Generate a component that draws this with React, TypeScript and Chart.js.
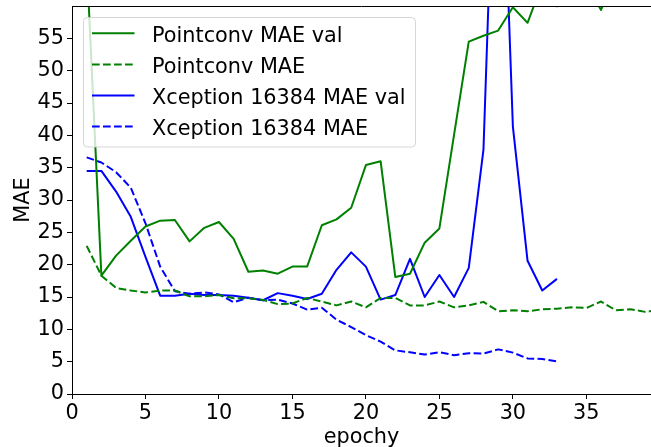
import React, { useEffect, useRef } from "react";
import { Chart, registerables } from "chart.js";

Chart.register(...registerables);

// Training curves: mean absolute error per epoch
const pointconvEpochs = Array.from({ length: 40 }, (_, i) => i + 1);
const xceptionEpochs = Array.from({ length: 33 }, (_, i) => i + 1);

const pointconvMaeVal = [
  67.0, 18.3, 21.4, 23.7, 25.9, 26.8, 26.9, 23.6, 25.7, 26.6,
  24.0, 18.9, 19.1, 18.6, 19.7, 19.7, 26.1, 27.0, 28.8, 35.4,
  36.0, 18.1, 18.6, 23.4, 25.6, 40.1, 54.5, 55.4, 56.2, 59.8,
  57.4, 63.5, 59.95, 64.0, 63.3, 59.4, 64.9, 65.0, 66.0, 64.0,
];
const pointconvMae = [
  22.9, 18.3, 16.4, 16.0, 15.7, 16.0, 16.0, 15.1, 15.1, 15.3,
  14.8, 14.8, 14.55, 13.9, 14.0, 14.85, 14.3, 13.7, 14.3, 13.4,
  14.85, 14.85, 13.7, 13.7, 14.3, 13.4, 13.7, 14.25, 12.8, 12.95,
  12.8, 13.1, 13.2, 13.4, 13.3, 14.3, 12.95, 13.1, 12.7, 13.0,
];
const xceptionMaeVal = [
  34.5, 34.5, 31.3, 27.4, 21.2, 15.2, 15.2, 15.5, 15.3, 15.3,
  15.2, 14.9, 14.5, 15.6, 15.2, 14.7, 15.5, 19.2, 21.9, 19.7,
  14.6, 15.3, 20.9, 15.0, 18.4, 15.0, 19.5, 37.8, 105.0, 41.4,
  20.6, 16.0, 17.8,
];
const xceptionMae = [
  36.6, 35.8, 34.3, 31.9, 26.4, 19.7, 15.9, 15.5, 15.7, 15.4,
  14.2, 14.9, 14.5, 14.6, 14.0, 13.05, 13.35, 11.5, 10.35, 9.1,
  8.1, 6.75, 6.45, 6.1, 6.45, 6.0, 6.3, 6.25, 6.9, 6.4,
  5.5, 5.4, 5.05,
];

const seriesNames = [
  "Pointconv MAE val",
  "Pointconv MAE",
  "Xception 16384 MAE val",
  "Xception 16384 MAE",
];
const seriesColors = ["#008000", "#008000", "#0000ff", "#0000ff"];
const seriesDashed = [false, true, false, true];

const xAxisTitle = "epochy";
const yAxisTitle = "MAE";
const xRange = [0, 39.4];
const yRange = [0, 60];
const tickStep = 5;

const FONT = "DejaVu Sans";
const FONT_SIZE = 20.8;
const DASH = [7.7, 3.3];

const toPoints = (xs: number[], ys: number[]) => xs.map((x, i) => ({ x, y: ys[i] }));

// Top spine plus a framed legend inside the plot, upper left
const frameAndLegend = {
  id: "frameAndLegend",
  afterDatasetsDraw(chart: any) {
    const { ctx, chartArea } = chart;
    ctx.save();
    ctx.strokeStyle = "#000";
    ctx.lineWidth = 1;
    ctx.beginPath();
    ctx.moveTo(chartArea.left, chartArea.top + 0.5);
    ctx.lineTo(chartArea.right, chartArea.top + 0.5);
    ctx.stroke();

    const bx = 83.5, by = 17.5, bw = 332, bh = 129.5, r = 4;
    ctx.beginPath();
    ctx.moveTo(bx + r, by);
    ctx.lineTo(bx + bw - r, by);
    ctx.arcTo(bx + bw, by, bx + bw, by + r, r);
    ctx.lineTo(bx + bw, by + bh - r);
    ctx.arcTo(bx + bw, by + bh, bx + bw - r, by + bh, r);
    ctx.lineTo(bx + r, by + bh);
    ctx.arcTo(bx, by + bh, bx, by + bh - r, r);
    ctx.lineTo(bx, by + r);
    ctx.arcTo(bx, by, bx + r, by, r);
    ctx.closePath();
    ctx.fillStyle = "rgba(255,255,255,0.8)";
    ctx.fill();
    ctx.strokeStyle = "rgba(204,204,204,0.8)";
    ctx.stroke();

    ctx.font = `${FONT_SIZE}px "${FONT}"`;
    ctx.textAlign = "left";
    ctx.textBaseline = "alphabetic";
    seriesNames.forEach((name, i) => {
      const rowY = 33.3 + i * 31.1;
      ctx.strokeStyle = seriesColors[i];
      ctx.lineWidth = 2;
      ctx.setLineDash(seriesDashed[i] ? DASH : []);
      ctx.beginPath();
      ctx.moveTo(92, rowY);
      ctx.lineTo(134.5, rowY);
      ctx.stroke();
      ctx.setLineDash([]);
      ctx.fillStyle = "#000";
      ctx.fillText(name, 152, rowY + 8.4);
    });
    ctx.restore();
  },
};

export default function App() {
  const canvasRef = useRef<HTMLCanvasElement | null>(null);

  useEffect(() => {
    const canvas = canvasRef.current;
    if (!canvas) return;
    const seriesData = [
      toPoints(pointconvEpochs, pointconvMaeVal),
      toPoints(pointconvEpochs, pointconvMae),
      toPoints(xceptionEpochs, xceptionMaeVal),
      toPoints(xceptionEpochs, xceptionMae),
    ];
    const font = { family: FONT, size: FONT_SIZE };
    const chart = new Chart(canvas, {
      type: "line",
      data: {
        datasets: seriesNames.map((label, i) => ({
          label,
          data: seriesData[i],
          borderColor: seriesColors[i],
          backgroundColor: seriesColors[i],
          borderWidth: 2,
          borderDash: seriesDashed[i] ? DASH : [],
          borderJoinStyle: "round" as const,
          pointRadius: 0,
          tension: 0,
          fill: false,
          clip: 0,
        })),
      },
      options: {
        animation: false,
        responsive: false,
        devicePixelRatio: 1,
        layout: { padding: { top: 6, right: 0, left: 0, bottom: 0 } },
        plugins: { legend: { display: false }, tooltip: { enabled: false } },
        scales: {
          x: {
            type: "linear",
            min: xRange[0],
            max: xRange[1],
            afterFit: (scale: any) => {
              scale.height = 53;
              scale.paddingLeft = 0;
              scale.paddingRight = 0;
            },
            ticks: {
              stepSize: tickStep,
              includeBounds: false,
              color: "#000",
              font,
              padding: 2,
              maxRotation: 0,
            },
            grid: { drawOnChartArea: false, tickLength: 5, color: "#000" },
            border: { display: true, color: "#000", width: 1 },
            title: {
              display: true,
              text: xAxisTitle,
              color: "#000",
              font,
              padding: { top: 0, bottom: -3 },
            },
          },
          y: {
            type: "linear",
            min: yRange[0],
            max: yRange[1],
            // the top value sits on the frame line and carries no label
            afterBuildTicks: (scale: any) => {
              scale.ticks = scale.ticks.filter((t: any) => t.value < yRange[1]);
            },
            afterFit: (scale: any) => {
              scale.width = 72;
              scale.paddingTop = 0;
              scale.paddingBottom = 0;
            },
            ticks: {
              stepSize: tickStep,
              color: "#000",
              font,
              padding: 3,
            },
            grid: { drawOnChartArea: false, tickLength: 5, color: "#000" },
            border: { display: true, color: "#000", width: 1 },
            title: {
              display: true,
              text: yAxisTitle,
              color: "#000",
              font,
              padding: { top: 11.5, bottom: 0 },
            },
          },
        },
      },
      plugins: [frameAndLegend],
    });
    return () => chart.destroy();
  }, []);

  return (
    <div style={{ position: "absolute", left: 0, top: 0, width: 651, height: 447, background: "#fff" }}>
      <canvas ref={canvasRef} width={651} height={447} style={{ width: 651, height: 447, display: "block" }} />
    </div>
  );
}
